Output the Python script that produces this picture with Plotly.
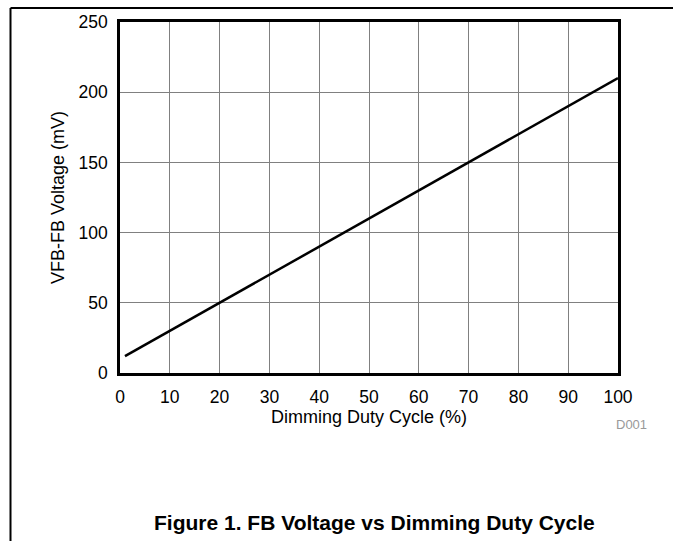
import plotly.graph_objects as go

duty_cycle = [1, 10, 20, 30, 40, 50, 60, 70, 80, 90, 100]
fb_voltage = [12, 30, 50, 70, 90, 110, 130, 150, 170, 190, 210]
x_ticks = [0, 10, 20, 30, 40, 50, 60, 70, 80, 90, 100]
y_ticks = [0, 50, 100, 150, 200, 250]

W, H = 673, 542
L, R, T, B = 120, 618, 20, 373

def px(x):
    return (x - L) / (R - L)

def py(y):
    return (B - y) / (B - T)

FAM = "Arial"
tick_font = dict(family=FAM, size=17.5, color="black")
title_font = dict(family=FAM, size=18, color="black")

fig = go.Figure()
fig.add_trace(go.Scatter(x=duty_cycle, y=fb_voltage, mode="lines",
                         line=dict(color="black", width=2.5), showlegend=False))

fig.update_layout(
    width=W, height=H,
    margin=dict(l=L, r=W - R, t=T, b=H - B),
    paper_bgcolor="white", plot_bgcolor="white",
    font=tick_font,
    xaxis=dict(range=[0, 100], tickvals=x_ticks, showgrid=True, gridcolor="#808080",
               gridwidth=1, showline=True, linecolor="black", linewidth=2.5, mirror=True,
               ticks="", zeroline=False, tickfont=tick_font, ticklabelstandoff=6,
               title=dict(text="Dimming Duty Cycle (%)", font=title_font, standoff=2)),
    yaxis=dict(range=[0, 250], tickvals=y_ticks, showgrid=True, gridcolor="#808080",
               gridwidth=1, showline=True, linecolor="black", linewidth=2.5, mirror=True,
               ticks="", zeroline=False, tickfont=tick_font, ticklabelstandoff=6,
               title=dict(text="VFB-FB Voltage (mV)", font=title_font, standoff=10)),
    shapes=[
        dict(type="line", xref="paper", yref="paper", x0=px(10.5), x1=px(673),
             y0=py(6), y1=py(6), line=dict(color="black", width=2)),
        dict(type="line", xref="paper", yref="paper", x0=px(10.5), x1=px(10.5),
             y0=py(6), y1=py(542), line=dict(color="black", width=2)),
    ],
    annotations=[
        dict(text="D001", xref="paper", yref="paper", x=px(631), y=py(425),
             xanchor="center", yanchor="middle", showarrow=False,
             font=dict(family=FAM, size=13, color="#999999")),
        dict(text="<b>Figure 1. FB Voltage vs Dimming Duty Cycle</b>", xref="paper", yref="paper",
             x=px(374), y=py(523), xanchor="center", yanchor="middle", showarrow=False,
             font=dict(family=FAM, size=21, color="black")),
    ],
)

fig.write_html("out.html", config={"displayModeBar": False},
               post_script="document.body.style.margin='0';")
